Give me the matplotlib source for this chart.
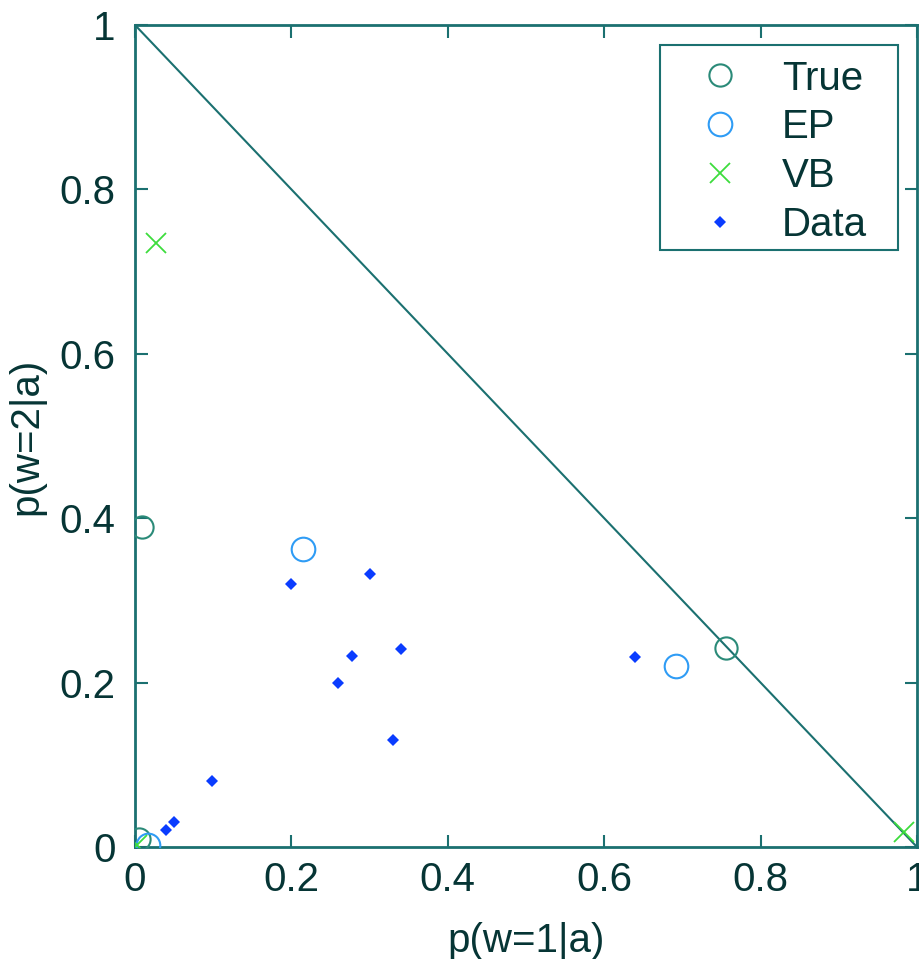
import matplotlib
matplotlib.use("Agg")
import matplotlib.pyplot as plt
from matplotlib.patches import Rectangle

# Values
true_x = [0.005, 0.009, 0.756]
true_y = [0.010, 0.389, 0.242]

ep_x = [0.017, 0.215, 0.692]
ep_y = [0.002, 0.362, 0.220]

vb_x = [0.003, 0.027, 0.983]
vb_y = [0.002, 0.735, 0.018]

data_x = [0.040, 0.050, 0.098, 0.200, 0.259, 0.278, 0.300, 0.330, 0.340, 0.639]
data_y = [0.021, 0.030, 0.080, 0.320, 0.200, 0.232, 0.332, 0.130, 0.241, 0.231]

ticks = [0, 0.2, 0.4, 0.6, 0.8, 1]
tick_labels = ["0", "0.2", "0.4", "0.6", "0.8", "1"]

INK = "#063535"
AXC = "#1b7070"
FS = 29

plt.rcParams["font.family"] = ["Liberation Sans", "DejaVu Sans"]
plt.rcParams["font.size"] = FS

fig = plt.figure(figsize=(9.19, 9.59), dpi=100)
ax = fig.add_axes([135 / 919, 112 / 959, 782 / 919, 822 / 959])

# simplex boundary p1 + p2 = 1
ax.plot([0, 1], [1, 0], color=AXC, linewidth=1.5, zorder=1)

ax.plot(true_x, true_y, "o", mfc="none", mec="#2a8a78", ms=16, mew=1.5, label="True", zorder=3)
ax.plot(ep_x, ep_y, "o", mfc="none", mec="#2f9cf5", ms=17, mew=1.5, label="EP", zorder=3)
ax.plot(vb_x, vb_y, "x", color="#3ddc3d", ms=14, mew=1.3, label="VB", zorder=3)
ax.plot(data_x, data_y, "D", color="#0a3cff", ms=6, mew=0, label="Data", zorder=3)

ax.set_xlim(0, 1)
ax.set_ylim(0, 1)
ax.set_xticks(ticks)
ax.set_yticks(ticks)
ax.set_xticklabels(tick_labels)
ax.set_yticklabels(tick_labels)
ax.tick_params(direction="in", length=9, width=1.5, color=AXC, labelcolor=INK,
               top=True, right=True)
ax.tick_params(axis="x", pad=10)
ax.tick_params(axis="y", pad=14)
for sp in ax.spines.values():
    sp.set_color(AXC)
    sp.set_linewidth(2)

ax.set_xlabel("p(w=1|a)", color=INK, labelpad=17)
ax.set_ylabel("p(w=2|a)", color=INK, labelpad=10)

# legend box drawn separately so the padding matches the original
ax.add_patch(Rectangle((0.671, 0.726), 0.305, 0.250, transform=ax.transAxes,
                       facecolor="white", edgecolor=AXC, linewidth=1.5, zorder=4))
leg = ax.legend(loc="upper left", bbox_to_anchor=(0.709, 0.958), borderaxespad=0,
                frameon=False, labelspacing=0.27, handlelength=1.5,
                handletextpad=0.8, borderpad=0, fontsize=FS)
leg.set_zorder(5)
for t in leg.get_texts():
    t.set_color(INK)

fig.savefig("out.png", dpi=100)
